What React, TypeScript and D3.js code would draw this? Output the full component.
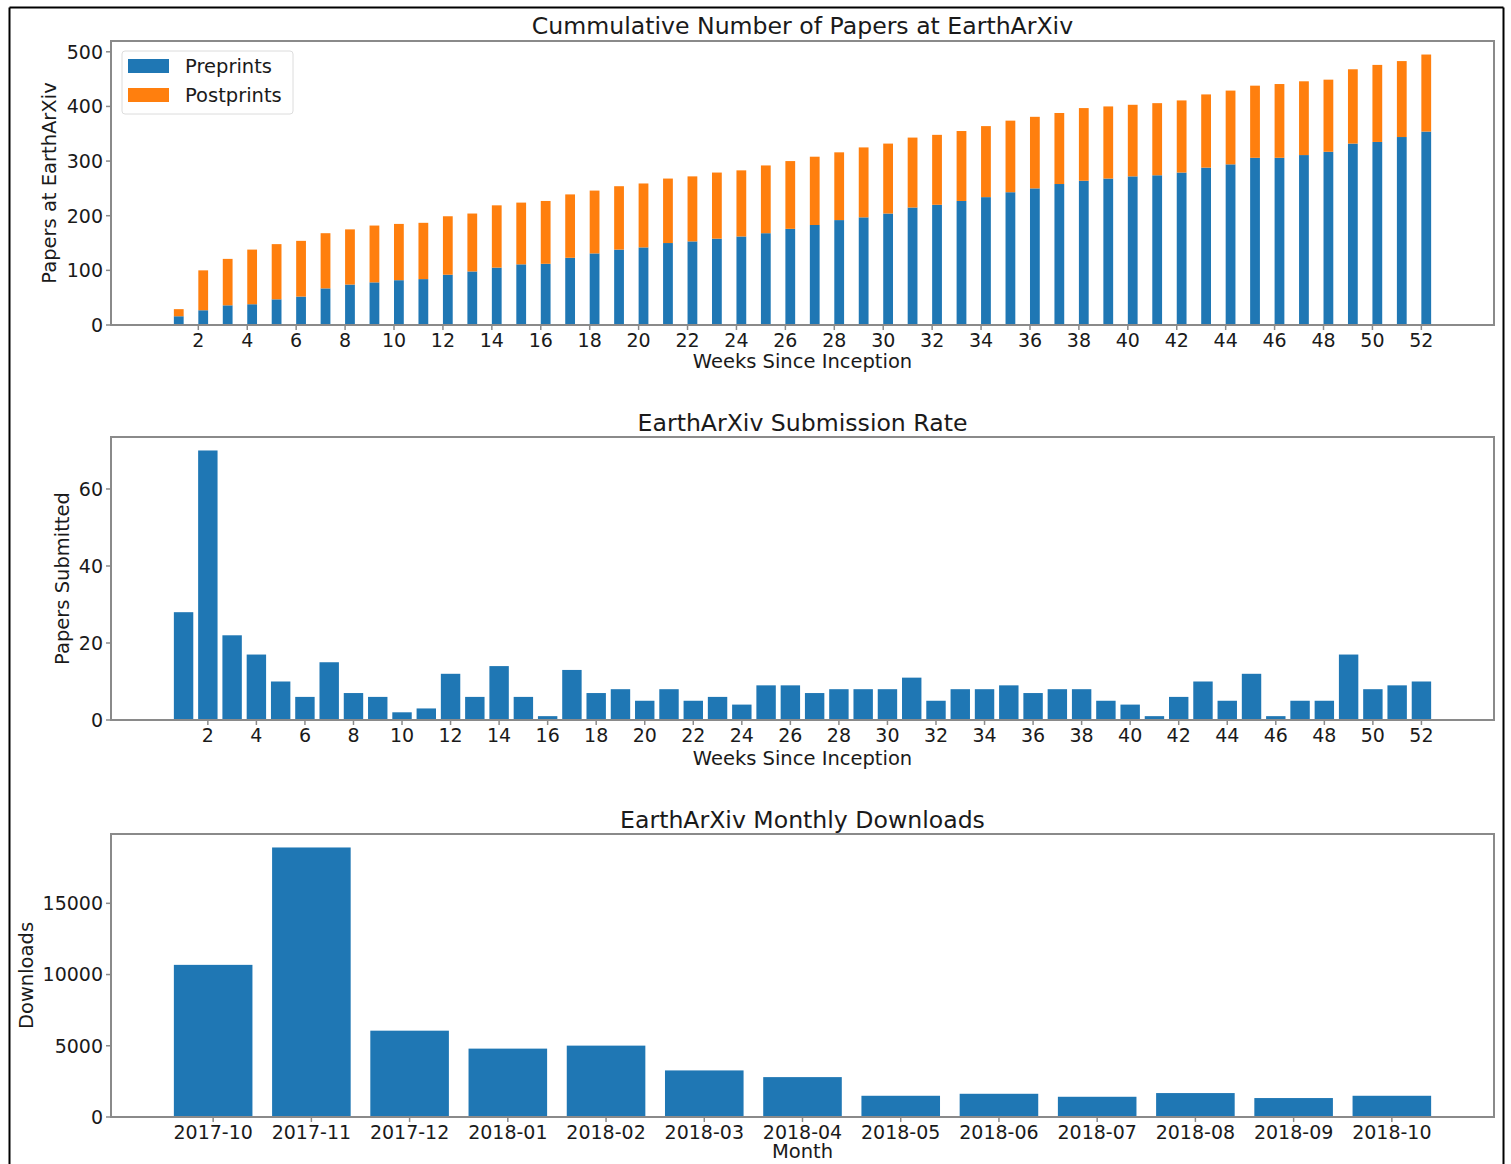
import React from "react";
import * as d3 from "d3";

// ---------- data ----------
const weeks = [1,2,3,4,5,6,7,8,9,10,11,12,13,14,15,16,17,18,19,20,21,22,23,24,25,26,27,28,29,30,31,32,33,34,35,36,37,38,39,40,41,42,43,44,45,46,47,48,49,50,51,52];
const weekTicks = [2,4,6,8,10,12,14,16,18,20,22,24,26,28,30,32,34,36,38,40,42,44,46,48,50,52];
const preprints = [16,27,36,38,47,52,67,74,78,82,84,92,98,105,111,112,123,131,138,142,150,153,158,162,168,176,183,192,197,204,215,220,227,234,243,250,258,264,268,272,274,279,288,294,306,306,311,317,332,335,344,354];
const postprints = [13,73,85,100,101,102,101,101,104,103,103,107,106,114,113,115,116,115,116,117,118,119,121,121,124,124,125,124,128,128,128,128,128,130,131,131,130,133,132,131,132,132,134,135,132,135,135,132,136,141,139,141];
const submissions = [28,70,22,17,10,6,15,7,6,2,3,12,6,14,6,1,13,7,8,5,8,5,6,4,9,9,7,8,8,8,11,5,8,8,9,7,8,8,5,4,1,6,10,5,12,1,5,5,17,8,9,10];
const months = ["2017-10","2017-11","2017-12","2018-01","2018-02","2018-03","2018-04","2018-05","2018-06","2018-07","2018-08","2018-09","2018-10"];
const downloads = [10680,18920,6060,4800,5010,3270,2800,1490,1630,1420,1680,1330,1490];
const cumTicks = [0,100,200,300,400,500];
const subTicks = [0,20,40,60];
const dlTicks = [0,5000,10000,15000];

// ---------- styles ----------
const BLUE = "#1f77b4";
const ORANGE = "#ff7f0e";
const FONT = "'DejaVu Sans', sans-serif";
const TXT = "#1a1a1a";
const SPINE = "#8a8a8a";
const TICK_FS = 19;
const TITLE_FS = 23.6;
const LABEL_FS = 19.5;

const L = 111, R = 1494;
const cx = (L + R) / 2;

function Frame({ top, bottom }: { top: number; bottom: number }) {
  return <rect x={L} y={top} width={R - L} height={bottom - top} fill="none" stroke={SPINE} strokeWidth={2} />;
}

function YAxis({ y, ticks }: { y: d3.ScaleLinear<number, number>; ticks: number[] }) {
  return (
    <g>
      {ticks.map((t) => (
        <g key={t}>
          <line x1={L - 5} x2={L} y1={y(t)} y2={y(t)} stroke={SPINE} strokeWidth={1.5} />
          <text x={L - 8} y={y(t)} dy="0.36em" textAnchor="end" fontSize={TICK_FS} fontFamily={FONT} fill={TXT}>
            {String(t)}
          </text>
        </g>
      ))}
    </g>
  );
}

function XAxis({ positions, labels, base }: { positions: number[]; labels: string[]; base: number }) {
  return (
    <g>
      {positions.map((p, i) => (
        <g key={i}>
          <line x1={p} x2={p} y1={base} y2={base + 5} stroke={SPINE} strokeWidth={1.5} />
          <text x={p} y={base + 22} textAnchor="middle" fontSize={TICK_FS} fontFamily={FONT} fill={TXT}>
            {labels[i]}
          </text>
        </g>
      ))}
    </g>
  );
}

export default function App() {
  // ---- top chart ----
  const t1 = 41, b1 = 325;
  const totals = preprints.map((p, i) => p + postprints[i]);
  const x1 = d3.scaleLinear().domain([-1.57, 54.97]).range([L, R]);
  const y1 = d3.scaleLinear().domain([0, d3.max(totals)! * 1.05]).range([b1, t1]);
  const w1 = x1(0.4) - x1(0);

  // ---- middle chart ----
  const t2 = 437, b2 = 720;
  const x2 = d3.scaleLinear().domain([-1.99, 54.99]).range([L, R]);
  const y2 = d3.scaleLinear().domain([0, d3.max(submissions)! * 1.05]).range([b2, t2]);
  const w2 = x2(0.8) - x2(0);

  // ---- bottom chart ----
  const t3 = 834, b3 = 1117;
  const x3 = d3.scaleLinear().domain([-1.04, 13.04]).range([L, R]);
  const y3 = d3.scaleLinear().domain([0, d3.max(downloads)! * 1.05]).range([b3, t3]);
  const w3 = x3(0.8) - x3(0);

  return (
    <svg width={1511} height={1164} style={{ position: "absolute", left: 0, top: 0, background: "#fff" }}>
      <rect x={0} y={0} width={1511} height={1164} fill="#fff" />
      {/* outer frame */}
      <line x1={9.5} y1={7.5} x2={9.5} y2={1164} stroke="#000" strokeWidth={2} />
      <line x1={9.5} y1={7.5} x2={1503.5} y2={7.5} stroke="#000" strokeWidth={2} />
      <line x1={1503.5} y1={7.5} x2={1503.5} y2={1164} stroke="#000" strokeWidth={2} />

      {/* ---------- top ---------- */}
      <text x={cx} y={34} textAnchor="middle" fontSize={TITLE_FS} fontFamily={FONT} fill={TXT}>
        Cummulative Number of Papers at EarthArXiv
      </text>
      {weeks.map((w, i) => (
        <g key={w}>
          <rect x={x1(w)} y={y1(preprints[i])} width={w1} height={b1 - y1(preprints[i])} fill={BLUE} />
          <rect x={x1(w)} y={y1(totals[i])} width={w1} height={y1(preprints[i]) - y1(totals[i])} fill={ORANGE} />
        </g>
      ))}
      <Frame top={t1} bottom={b1} />
      <YAxis y={y1} ticks={cumTicks} />
      <XAxis positions={weekTicks.map((t) => x1(t))} labels={weekTicks.map(String)} base={b1} />
      <text x={cx} y={368} textAnchor="middle" fontSize={LABEL_FS} fontFamily={FONT} fill={TXT}>
        Weeks Since Inception
      </text>
      <text transform={`translate(56,${(t1 + b1) / 2}) rotate(-90)`} textAnchor="middle" fontSize={LABEL_FS} fontFamily={FONT} fill={TXT}>
        Papers at EarthArXiv
      </text>
      {/* legend */}
      <rect x={122} y={51} width={171} height={63} rx={3} fill="#fff" stroke="#dcdcdc" strokeWidth={1} opacity={0.95} />
      <rect x={128} y={59} width={41} height={14} fill={BLUE} />
      <rect x={128} y={88} width={41} height={14} fill={ORANGE} />
      <text x={185} y={73} fontSize={LABEL_FS} fontFamily={FONT} fill={TXT}>Preprints</text>
      <text x={185} y={102} fontSize={LABEL_FS} fontFamily={FONT} fill={TXT}>Postprints</text>

      {/* ---------- middle ---------- */}
      <text x={cx} y={431} textAnchor="middle" fontSize={TITLE_FS} fontFamily={FONT} fill={TXT}>
        EarthArXiv Submission Rate
      </text>
      {weeks.map((w, i) => (
        <rect key={w} x={x2(w) - w2 / 2} y={y2(submissions[i])} width={w2} height={b2 - y2(submissions[i])} fill={BLUE} />
      ))}
      <Frame top={t2} bottom={b2} />
      <YAxis y={y2} ticks={subTicks} />
      <XAxis positions={weekTicks.map((t) => x2(t))} labels={weekTicks.map(String)} base={b2} />
      <text x={cx} y={765} textAnchor="middle" fontSize={LABEL_FS} fontFamily={FONT} fill={TXT}>
        Weeks Since Inception
      </text>
      <text transform={`translate(69,${(t2 + b2) / 2}) rotate(-90)`} textAnchor="middle" fontSize={LABEL_FS} fontFamily={FONT} fill={TXT}>
        Papers Submitted
      </text>

      {/* ---------- bottom ---------- */}
      <text x={cx} y={828} textAnchor="middle" fontSize={TITLE_FS} fontFamily={FONT} fill={TXT}>
        EarthArXiv Monthly Downloads
      </text>
      {months.map((m, i) => (
        <rect key={m} x={x3(i) - w3 / 2} y={y3(downloads[i])} width={w3} height={b3 - y3(downloads[i])} fill={BLUE} />
      ))}
      <Frame top={t3} bottom={b3} />
      <YAxis y={y3} ticks={dlTicks} />
      <XAxis positions={months.map((_, i) => x3(i))} labels={months} base={b3} />
      <text x={cx} y={1158} textAnchor="middle" fontSize={LABEL_FS} fontFamily={FONT} fill={TXT}>
        Month
      </text>
      <text transform={`translate(33,${(t3 + b3) / 2}) rotate(-90)`} textAnchor="middle" fontSize={LABEL_FS} fontFamily={FONT} fill={TXT}>
        Downloads
      </text>
    </svg>
  );
}
